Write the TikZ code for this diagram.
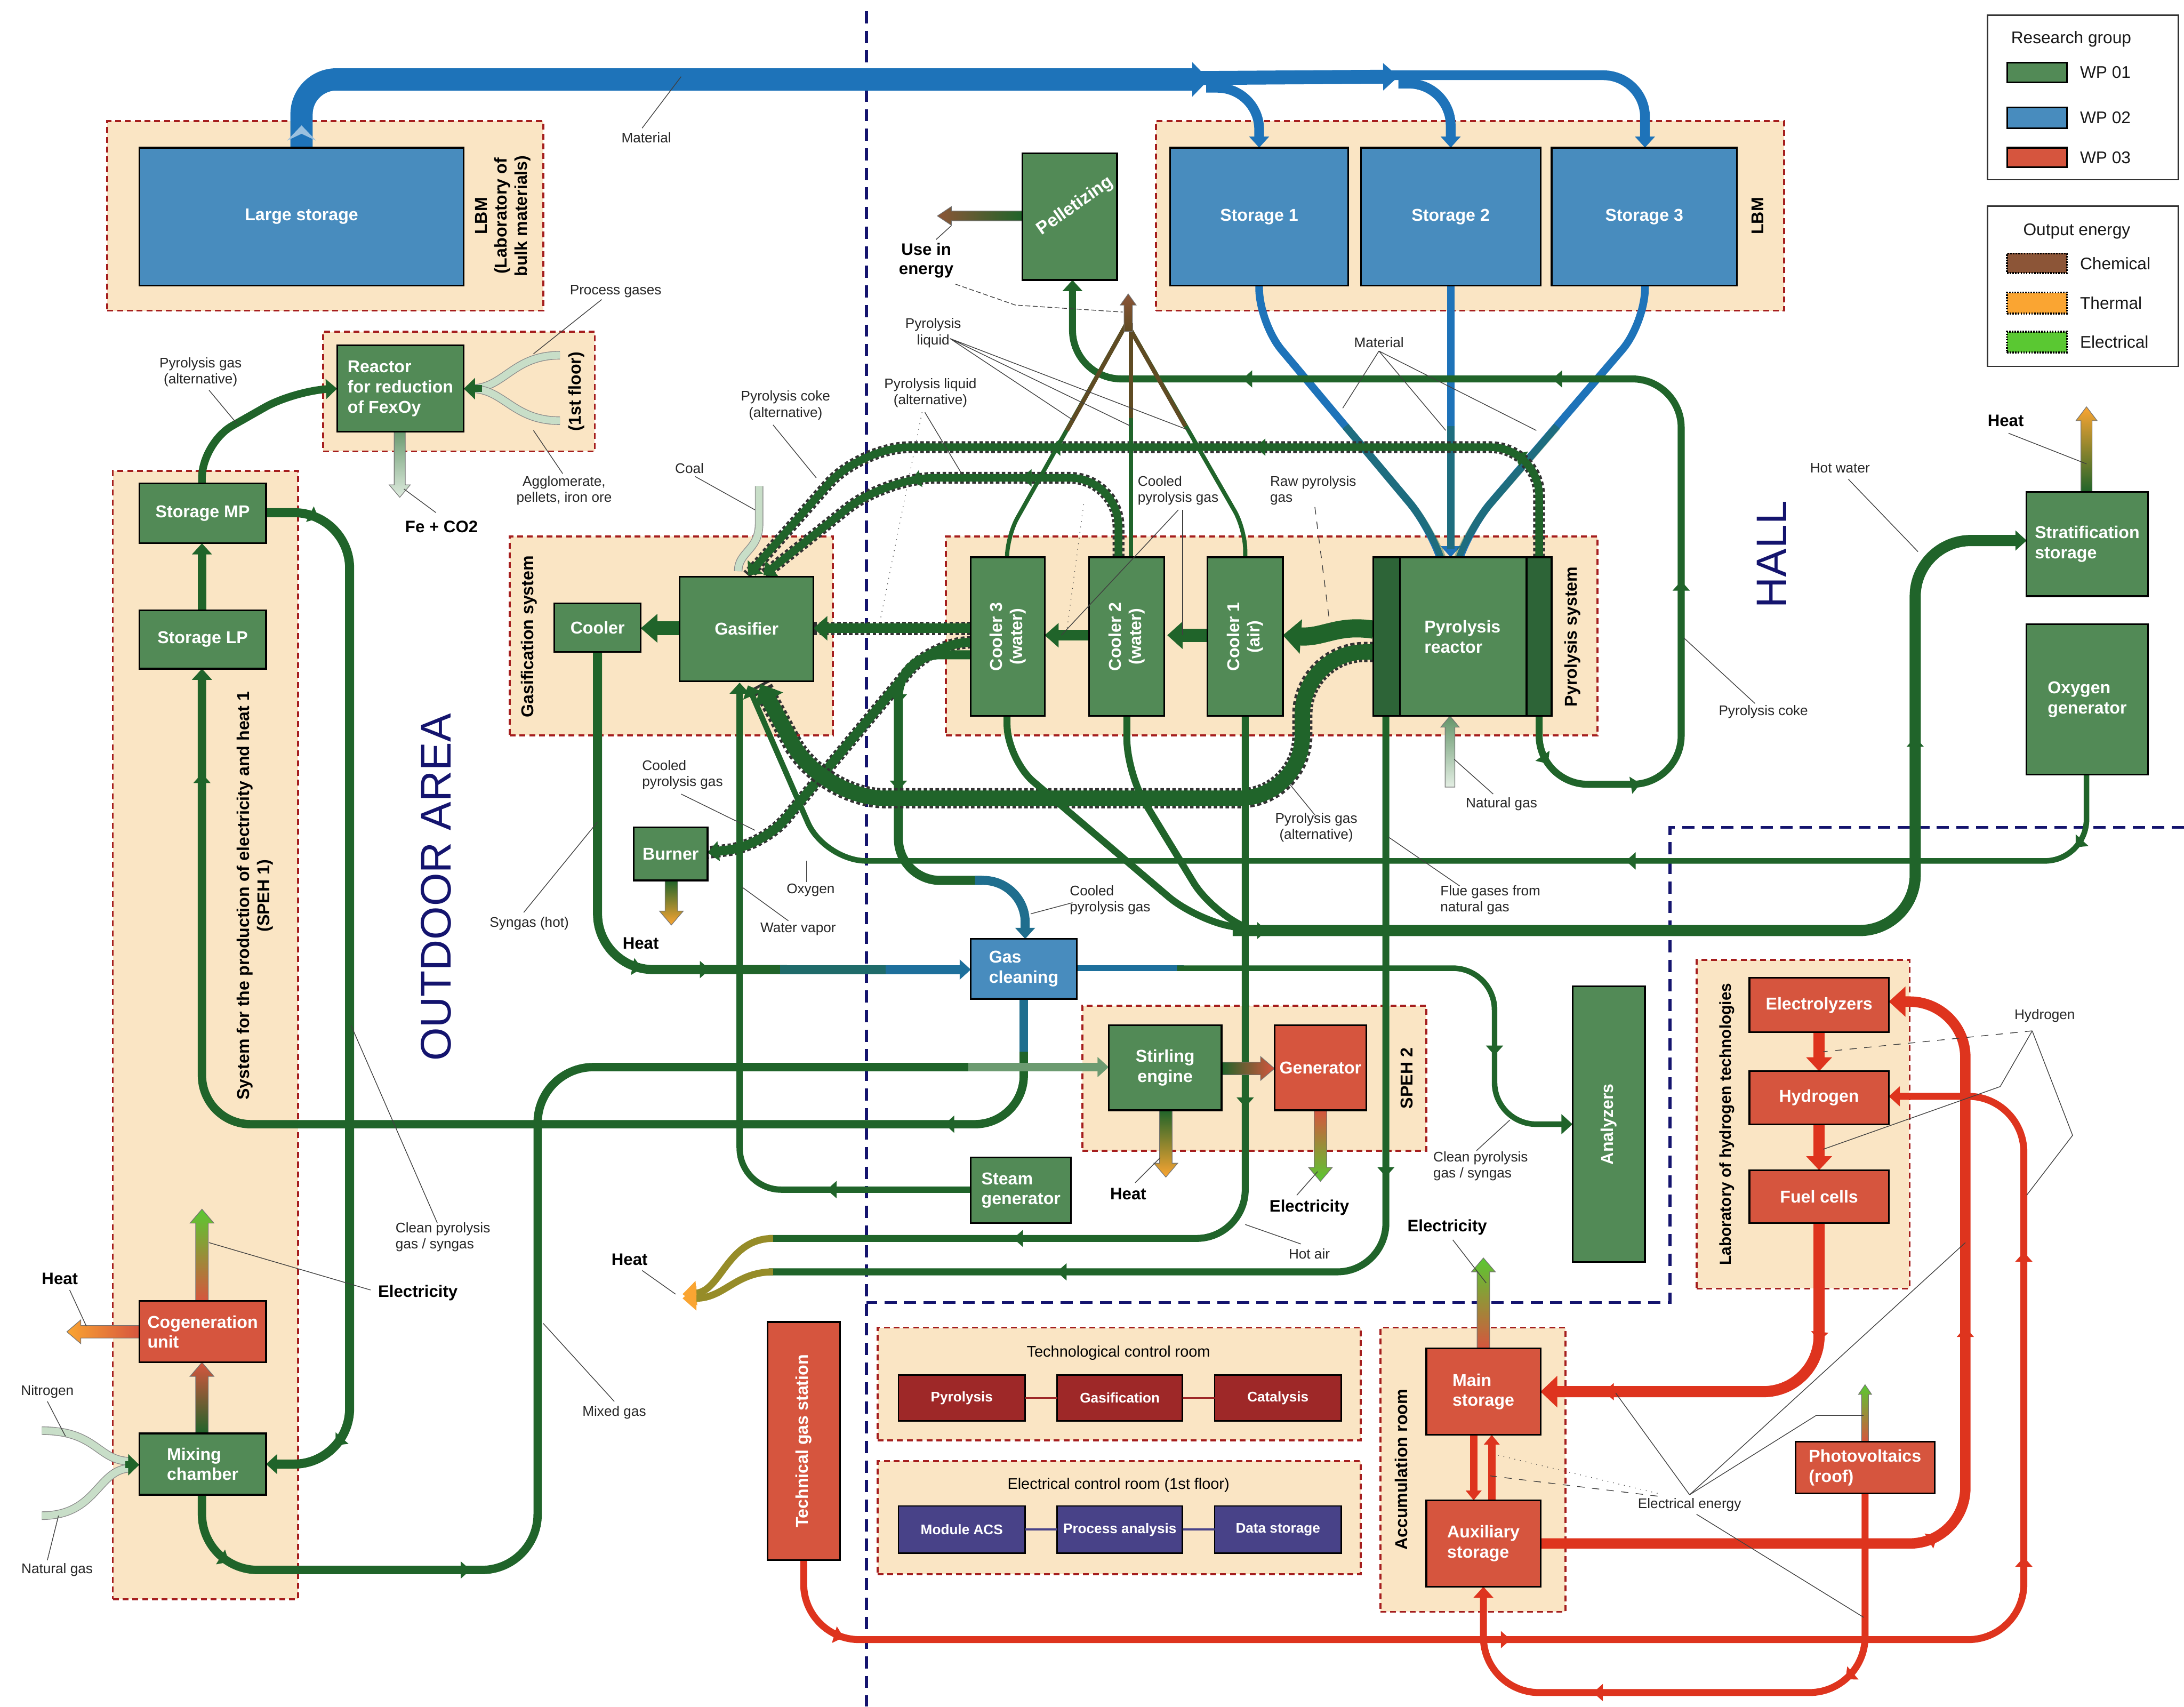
\documentclass[tikz,border=0pt]{standalone}
\usepackage{fontspec}
\setmainfont{Liberation Sans}
\usetikzlibrary{arrows.meta,decorations.markings}
\definecolor{wpg}{RGB}{82,138,86}
\definecolor{wpgd}{RGB}{45,100,55}
\definecolor{wpb}{RGB}{72,140,190}
\definecolor{wpr}{RGB}{214,85,62}
\definecolor{ctrlr}{RGB}{158,40,40}
\definecolor{ctrln}{RGB}{72,66,136}
\definecolor{pg}{RGB}{32,100,42}
\definecolor{pb}{RGB}{30,115,185}
\definecolor{pr}{RGB}{222,52,30}
\definecolor{grpbg}{RGB}{250,229,196}
\definecolor{grpred}{RGB}{165,30,30}
\definecolor{navy}{RGB}{20,20,110}
\definecolor{pale}{RGB}{200,222,200}
\definecolor{brownE}{RGB}{140,85,55}
\definecolor{orangeE}{RGB}{250,165,50}
\definecolor{greenE}{RGB}{90,200,50}
\definecolor{heatc}{RGB}{150,140,40}
\definecolor{fanc}{RGB}{95,75,35}

\newcommand\bx[7]{\node[#1,minimum width={(#5-#3)*0.2mm},minimum height={(#6-#4)*0.2mm}] (#2) at ({(#3+#5)/2},{(#4+#6)/2}) {#7};}
\newcommand\vfat[7]{\path[draw=black!55,line width=0.25pt,top color=#6,bottom color=#7] ({#1-#4},#2) -- ({#1-#4},{#3+#5}) -- ({#1-1.9*#4},{#3+#5}) -- (#1,#3) -- ({#1+1.9*#4},{#3+#5}) -- ({#1+#4},{#3+#5}) -- ({#1+#4},#2) -- cycle;}
\newcommand\hfat[7]{\path[draw=black!55,line width=0.25pt,left color=#6,right color=#7] (#1,{#3-#4}) -- ({#2+#5},{#3-#4}) -- ({#2+#5},{#3-1.9*#4}) -- (#2,#3) -- ({#2+#5},{#3+1.9*#4}) -- ({#2+#5},{#3+#4}) -- (#1,{#3+#4}) -- cycle;}

\tikzset{
 box/.style={draw=black,line width=0.7pt,inner sep=0pt,outer sep=0pt,text=white,font=\bfseries\fontsize{7}{8.2}\selectfont,align=center},
 boxg/.style={box,fill=wpg},
 boxb/.style={box,fill=wpb},
 boxr/.style={box,fill=wpr},
 boxc/.style={box,fill=ctrlr,font=\bfseries\fontsize{5.7}{7}\selectfont,line width=0.6pt},
 boxn/.style={box,fill=ctrln,font=\bfseries\fontsize{5.7}{7}\selectfont,line width=0.6pt},
 grp/.style={draw=grpred,line width=0.8pt,dash pattern=on 2.4pt off 1.6pt,fill=grpbg,inner sep=0pt},
 bt/.style={text=white,font=\bfseries\fontsize{7}{8.2}\selectfont,align=center,inner sep=0pt},
 gt/.style={text=black,font=\bfseries\fontsize{7}{8.2}\selectfont,align=center,inner sep=0pt},
 lbl/.style={text=black!85,font=\fontsize{5.7}{6.6}\selectfont,align=center,inner sep=0.3pt},
 blbl/.style={text=black,font=\bfseries\fontsize{6.8}{7.8}\selectfont,align=center,inner sep=0.3pt},
 big/.style={text=navy,font=\fontsize{17.5}{20}\selectfont,inner sep=0pt},
 navyd/.style={draw=navy,line width=1.2pt,dash pattern=on 5pt off 3pt},
 lead/.style={draw=black!75,line width=0.3pt},
 pipe/.style={draw=pg,line width=1.2mm,rounded corners=5mm},
 rpipe/.style={draw=pr,line width=1.2mm,rounded corners=8mm},
 dp/.style={preaction={draw=black!80,line width=#1,dash pattern=on 0.5mm off 0.35mm,arrows=-}},
 ma/.style={postaction={decorate,decoration={markings,mark=at position #1 with {\arrow{Triangle[length=1.4mm,width=2.4mm]}}}}},
 atip/.style={-{Triangle[length=1.6mm,width=2.8mm]}},
 pl/.style={draw=black!45,double=pale,double distance=1mm,line width=0.3pt},
 sw/.style={draw=black,line width=0.7pt,inner sep=0pt},
 swd/.style={draw=black,line width=0.8pt,dash pattern=on 0.6pt off 0.5pt,inner sep=0pt},
 legt/.style={font=\fontsize{6.9}{8}\selectfont,inner sep=0pt,text=black!90}
}

\begin{document}
\begin{tikzpicture}[x=0.2mm,y=-0.2mm]
\useasboundingbox (0,0) rectangle (1568,1225);
\fill[white] (0,0) rectangle (1568,1225);

% ---------------- groups
\bx{grp}{gLBMa}{77}{87}{390}{223}{}
\bx{grp}{gLBMb}{830}{87}{1281}{223}{}
\bx{grp}{gReact}{232}{238}{427}{324}{}
\bx{grp}{gSPEH1}{81}{338}{214}{1148}{}
\bx{grp}{gGasif}{366}{385}{598}{528}{}
\bx{grp}{gPyro}{679}{385}{1147}{528}{}
\bx{grp}{gSPEH2}{777}{722}{1024}{826}{}
\bx{grp}{gHyd}{1218}{689}{1371}{925}{}
\bx{grp}{gTech}{630}{953}{977}{1034}{}
\bx{grp}{gElec}{630}{1049}{977}{1130}{}
\bx{grp}{gAcc}{991}{953}{1124}{1157}{}

% ---------------- area borders
\draw[navyd] (622,8) -- (622,1225);
\draw[navyd] (1568,594) -- (1199,594) -- (1199,935) -- (622,935);

% ---------------- legend
\bx{draw=black!80,line width=0.6pt,fill=white}{legA}{1427}{11}{1564}{129}{}
\node[legt] (legAt) at (1487,28) {Research group};
\bx{sw,fill=wpg}{sw1}{1441}{45}{1484}{59}{}
\bx{sw,fill=wpb}{sw2}{1441}{77}{1484}{92}{}
\bx{sw,fill=wpr}{sw3}{1441}{106}{1484}{120}{}
\node[legt,anchor=west] (lw1) at (1493,52) {WP 01};
\node[legt,anchor=west] (lw2) at (1493,84.5) {WP 02};
\node[legt,anchor=west] (lw3) at (1493,113) {WP 03};
\bx{draw=black!80,line width=0.6pt,fill=white}{legB}{1427}{148}{1564}{263}{}
\node[legt] (legBt) at (1491,166) {Output energy};
\bx{swd,fill=brownE}{sw4}{1441}{182}{1484}{196}{}
\bx{swd,fill=orangeE}{sw5}{1441}{210}{1484}{225}{}
\bx{swd,fill=greenE}{sw6}{1441}{238}{1484}{253}{}
\node[legt,anchor=west] (lw4) at (1493,189) {Chemical};
\node[legt,anchor=west] (lw5) at (1493,217.5) {Thermal};
\node[legt,anchor=west] (lw6) at (1493,245.5) {Electrical};

% ---------------- blue material pipes
\draw[pb,line width=3.2mm,rounded corners=5mm,-{Triangle[length=2.4mm,width=4.8mm]}] (216.5,106) -- (216.5,57) -- (868,57);
\fill[pb!45!white] (206,101) -- (216.5,90) -- (227,101) -- (216.5,96) -- cycle;
\draw[pb,line width=2mm,-{Triangle[length=2.2mm,width=3.8mm]}] (862,56) -- (1004,55);
\draw[pb,line width=1.4mm,rounded corners=6mm,atip] (998,54) -- (1181,54) -- (1181,106);
\draw[pb,line width=1.4mm,rounded corners=6mm,atip] (866,63) -- (904,63) -- (904,106);
\draw[pb,line width=1.4mm,rounded corners=6mm,atip] (1004,60) -- (1041.5,60) -- (1041.5,106);
\draw[pb,line width=1.1mm,rounded corners=5mm,atip] (904,205) -- (904,232) -- (1028,380) -- (1034,400);
\draw[pb,line width=1.1mm,atip] (1041.5,205) -- (1041.5,400);
\draw[pb,line width=1.1mm,rounded corners=5mm,atip] (1181,205) -- (1181,232) -- (1054,380) -- (1048,400);
\draw[pg,opacity=0.4,line width=1.1mm,rounded corners=5mm] (966,306) -- (1028,380) -- (1033,394);
\draw[pg,opacity=0.4,line width=1.1mm] (1041.5,306) -- (1041.5,394);
\draw[pg,opacity=0.4,line width=1.1mm,rounded corners=5mm] (1118,306) -- (1054,380) -- (1049,394);

% ---------------- green pipes
% pyrolysis coke to pelletizing
\draw[pipe,line width=1mm,rounded corners=7mm,atip,ma=0.04,ma=0.12,ma=0.3,ma=0.55,ma=0.8] (1105,514) -- (1105,563) -- (1207,563) -- (1207,272) -- (770,272) -- (770,201);
% upper dotted pipe (pyrolysis coke alternative)
\draw[pipe,dp=1.7mm,line width=1.1mm,rounded corners=7mm,atip,ma=0.12,ma=0.4,ma=0.62] (1105,400) -- (1105,321) -- (618,321) -- (537,413);
% lower dotted pipe (pyrolysis liquid alternative)
\draw[pipe,dp=1.7mm,line width=1.1mm,rounded corners=7mm,atip,ma=0.35,ma=0.6] (803,400) -- (803,343) -- (636,343) -- (548,413);
% raw pyrolysis gas and coolers chain
\draw[pg,line width=2.6mm,-{Triangle[length=2.6mm,width=4.8mm]}] (986,452) .. controls (960,448) and (950,458) .. (921,456);
\draw[pg,line width=1.9mm,-{Triangle[length=2.2mm,width=3.8mm]}] (867,456) -- (838,456);
\draw[pg,line width=1.5mm,-{Triangle[length=2mm,width=3.4mm]}] (782,456) -- (750,456);
\draw[pipe,dp=1.9mm,line width=1.4mm,-{Triangle[length=2mm,width=3.4mm]}] (697,451) -- (584,451);
% cooler 3 -> burner
\draw[pipe,dp=1.8mm,line width=1.3mm,rounded corners=5mm,atip] (697,461) -- (668,463) -- (548,607) -- (508,612);
% cooler 3 -> gas cleaning
\draw[pipe,line width=1.3mm,rounded corners=6mm,ma=0.3,ma=0.55] (697,470) -- (645,470) -- (645,632) -- (705,632);
\draw[line width=1.3mm,draw=pb!70!pg,rounded corners=6mm,atip] (700,632) -- (736,632) -- (736,674);
% pyrolysis gas (alternative) thick dotted
\draw[pipe,dp=2.9mm,line width=2.2mm,rounded corners=9mm,-{Triangle[length=2.6mm,width=4.4mm]},ma=0.2,ma=0.5] (986,468) -- (935,468) -- (935,573) -- (590,573) -- (546,491);
% hot water
\draw[pipe,line width=1mm,rounded corners=5mm] (723,514) -- (723,545) -- (858,660) -- (900,668);
\draw[pipe,line width=1mm,rounded corners=5mm] (809,514) -- (809,555) -- (870,655) -- (900,668);
\draw[pipe,line width=1.6mm,rounded corners=8mm,atip,ma=0.03,ma=0.75] (885,668) -- (1375,668) -- (1375,388) -- (1455,388);
% hot air and flue gases -> heat
\draw[pipe,line width=1mm,rounded corners=7mm,ma=0.4,ma=0.75] (894,514) -- (894,889) -- (552,889);
\draw[pipe,line width=1mm,rounded corners=7mm,ma=0.4,ma=0.75] (995,514) -- (995,913) -- (552,913);
\draw[line width=1mm,draw=heatc,-{Triangle[length=2mm,width=3.4mm,color=orangeE]}] (555,889) .. controls (522,889) and (518,927) .. (490,929);
\draw[line width=1mm,draw=heatc,-{Triangle[length=2mm,width=3.4mm,color=orangeE]}] (555,913) .. controls (528,913) and (520,932) .. (490,932);
% oxygen
\draw[pipe,line width=0.8mm,rounded corners=6mm,atip,ma=0.05,ma=0.35] (1498,556) -- (1498,618) -- (592,618) -- (537,492);
% water vapor
\draw[pipe,line width=0.9mm,rounded corners=6mm,atip,ma=0.2] (697,854) -- (531,854) -- (531,490);
% gasifier -> cooler
\draw[pg,line width=2mm,-{Triangle[length=2.4mm,width=4mm]}] (488,451) -- (460,451);
% cooler -> gas cleaning (syngas hot)
\draw[pipe,line width=1.3mm,rounded corners=8mm,ma=0.7,ma=0.84] (429,468) -- (429,696) -- (565,696);
\draw[line width=1.3mm,draw=pb!45!pg] (560,696) -- (640,696);
\draw[line width=1.3mm,draw=pb!80!pg,atip] (636,696) -- (697,696);
% gas cleaning -> analyzers
\draw[line width=0.8mm,draw=pb!80!pg] (773,695) -- (850,695);
\draw[pipe,line width=0.8mm,rounded corners=6mm,atip,ma=0.75] (845,695) -- (1073,695) -- (1073,807) -- (1129,807);
% gas cleaning -> storage LP
\draw[line width=1.2mm,draw=pb!70!pg] (735,717) -- (735,760);
\draw[pipe,line width=1.2mm,rounded corners=7mm,atip,ma=0.1,ma=0.92] (735,755) -- (735,807) -- (145,807) -- (145,480);
% mixed gas
\draw[pipe,line width=1.2mm,rounded corners=8mm,ma=0.06,ma=0.25] (145,1073) -- (145,1127) -- (386,1127) -- (386,766) -- (700,766);
\draw[line width=1.2mm,draw=pg!55!pale,atip] (695,766) -- (796,766);
% storage MP -> mixing chamber
\draw[pipe,line width=1.3mm,rounded corners=8mm,atip,ma=0.05,ma=0.93] (191,368) -- (251,368) -- (251,1051) -- (191,1051);
% storage MP -> reactor FexOy
\draw[pipe,line width=1.1mm,rounded corners=5mm,atip] (145,347) -- (145,318) -- (212,280) -- (242,279);
% storage LP -> storage MP
\draw[pg,line width=1.2mm,atip] (145,438) -- (145,390);
% pyrolysis liquid fan
\draw[line width=0.6mm,draw=pg,rounded corners=3mm] (723,400) -- (723,385) -- (809,232);
\draw[line width=0.6mm,draw=pg] (812,400) -- (812,232);
\draw[line width=0.6mm,draw=pg,rounded corners=3mm] (894,400) -- (894,380) -- (809,232);
\draw[line width=0.6mm,draw=fanc] (766,309) -- (809,232);
\draw[line width=0.6mm,draw=fanc] (812,300) -- (812,232);
\draw[line width=0.6mm,draw=fanc] (851,306) -- (809,232);
\vfat{810}{238}{211}{3}{8}{brownE}{fanc}

% pale inputs
\draw[pl] (402,255) .. controls (368,255) and (362,279) .. (338,279);
\draw[pl] (402,302) .. controls (368,302) and (362,279) .. (338,279);
\draw[pg,line width=1mm,-{Triangle[length=1.6mm,width=3mm]}] (346,279) -- (333,279);
\draw[pl] (545,349) -- (545,376) .. controls (545,395) and (530,396) .. (530,410);
\draw[pl] (30,1027) .. controls (70,1027) and (70,1049) .. (94,1049);
\draw[pl] (30,1088) .. controls (70,1088) and (70,1054) .. (94,1054);
\draw[pg,line width=1mm,-{Triangle[length=1.6mm,width=3mm]}] (90,1051.5) -- (100,1051.5);
\vfat{287}{310}{357}{4}{-9}{pg!55!pale}{pale!60!white}
\vfat{1041}{565}{514}{3.5}{8}{pg!60!pale}{pale!50!white}

% fat energy outputs
\hfat{734}{673}{155}{3.5}{10}{brownE}{pg}
\hfat{100}{48}{956}{4.5}{10}{orangeE}{wpr}
\vfat{145}{934}{868}{4.5}{10}{greenE}{wpr}
\vfat{145}{1029}{978}{4.5}{10}{wpr}{pg}
\vfat{482}{632}{664}{4.5}{-10}{pg}{orangeE}
\hfat{877}{915}{767}{4.5}{-10}{pg}{wpr}
\vfat{837}{797}{845}{4.5}{-10}{pg}{orangeE}
\vfat{948}{797}{848}{4.5}{-10}{wpr}{greenE}
\vfat{1065}{968}{903}{4.5}{10}{greenE}{wpr}
\vfat{1498}{353}{292}{4}{10}{orangeE}{pg}
\vfat{1339}{1035}{994}{2.5}{7}{greenE}{wpr}

% ---------------- red pipes
\draw[pr,line width=1.6mm,-{Triangle[length=2mm,width=3.6mm]}] (1306,741) -- (1306,769);
\draw[pr,line width=1.6mm,-{Triangle[length=2mm,width=3.6mm]}] (1306,807) -- (1306,840);
\draw[rpipe,line width=1.6mm,-{Triangle[length=2.4mm,width=4.4mm]},ma=0.28,ma=0.85] (1306,878) -- (1306,999) -- (1106,999);
\draw[rpipe,line width=1.5mm,-{Triangle[length=2.4mm,width=4.2mm]},ma=0.4,ma=0.62] (1106,1108) -- (1411,1108) -- (1411,719) -- (1356,719);
\draw[rpipe,line width=1mm,atip,ma=0.05,ma=0.4,ma=0.7,ma=0.86] (577,1120) -- (577,1177) -- (1453,1177) -- (1453,787) -- (1356,787);
\draw[rpipe,line width=1mm,atip,ma=0.3,ma=0.7] (1339,1072) -- (1339,1215) -- (1065,1215) -- (1065,1139);
\draw[pr,line width=1.1mm,-{Triangle[length=1.4mm,width=2.2mm]}] (1058,1030) -- (1058,1077);
\draw[pr,line width=1.1mm,-{Triangle[length=1.4mm,width=2.2mm]}] (1071,1077) -- (1071,1030);

% ---------------- boxes
\bx{boxb}{largeS}{100}{106}{333}{205}{Large storage}
\bx{boxb}{st1}{840}{106}{968}{205}{Storage 1}
\bx{boxb}{st2}{977}{106}{1106}{205}{Storage 2}
\bx{boxb}{st3}{1114}{106}{1247}{205}{Storage 3}
\bx{boxg}{pell}{734}{110}{802}{201}{}
\node[bt,rotate=35,font=\bfseries\fontsize{7.3}{8.2}\selectfont] (pellT) at (772,148) {Pelletizing};
\bx{boxg,align=left}{reactFe}{242}{248}{333}{310}{Reactor\\for reduction\\of FexOy}
\bx{boxg}{stMP}{100}{347}{191}{390}{Storage MP}
\bx{boxg}{stLP}{100}{438}{191}{480}{Storage LP}
\bx{boxr,align=left}{cogen}{100}{934}{191}{978}{Cogeneration\\unit}
\bx{boxg,align=left}{mix}{100}{1029}{191}{1073}{Mixing\\chamber}
\bx{boxg}{cooler}{398}{433}{460}{468}{Cooler}
\bx{boxg}{gasifier}{488}{414}{584}{489}{Gasifier}
\bx{boxg}{burner}{455}{594}{508}{632}{Burner}
\bx{boxb,align=left}{gascl}{697}{674}{773}{717}{Gas\\cleaning}
\bx{boxg}{c3}{697}{400}{750}{514}{}
\bx{boxg}{c2}{782}{400}{836}{514}{}
\bx{boxg}{c1}{867}{400}{921}{514}{}
\node[bt,rotate=90] (c3T) at (c3) {Cooler 3\\(water)};
\node[bt,rotate=90] (c2T) at (c2) {Cooler 2\\(water)};
\node[bt,rotate=90] (c1T) at (c1) {Cooler 1\\(air)};
\bx{boxg,align=left}{reactor}{986}{400}{1114}{514}{Pyrolysis\\reactor}
\draw[fill=wpgd,line width=0.7pt] (986,400) rectangle (1005,514);
\draw[fill=wpgd,line width=0.7pt] (1096,400) rectangle (1114,514);
\bx{boxg}{stirl}{796}{736}{877}{797}{Stirling\\engine}
\bx{boxr}{gen}{915}{736}{981}{797}{Generator}
\bx{boxg,align=left}{steam}{697}{831}{769}{878}{Steam\\generator}
\bx{boxg}{analyz}{1129}{708}{1181}{906}{}
\node[bt,rotate=90] (analyzT) at (analyz) {Analyzers};
\bx{boxg,align=left}{strat}{1455}{353}{1542}{428}{Stratification\\storage}
\bx{boxg,align=left}{oxyg}{1455}{448}{1542}{556}{Oxygen\\generator}
\bx{boxr}{techgas}{551}{949}{603}{1120}{}
\node[bt,rotate=90] (techT) at (techgas) {Technical gas station};
\bx{boxc}{cPyro}{645}{987}{736}{1020}{Pyrolysis}
\bx{boxc}{cGasif}{759}{987}{849}{1020}{Gasification}
\bx{boxc}{cCatal}{872}{987}{963}{1020}{Catalysis}
\bx{boxn}{cMacs}{645}{1081}{736}{1115}{Module ACS}
\bx{boxn}{cProc}{759}{1081}{849}{1115}{Process analysis}
\bx{boxn}{cData}{872}{1081}{963}{1115}{Data storage}
\draw[ctrlr,line width=0.8pt] (cPyro.east) -- (cGasif.west) (cGasif.east) -- (cCatal.west);
\draw[ctrln,line width=0.8pt] (cMacs.east) -- (cProc.west) (cProc.east) -- (cData.west);
\bx{boxr,align=left}{mainst}{1024}{968}{1106}{1030}{Main\\storage}
\bx{boxr,align=left}{auxst}{1024}{1077}{1106}{1139}{Auxiliary\\storage}
\bx{boxr}{electro}{1256}{702}{1356}{741}{Electrolyzers}
\bx{boxr}{hydro}{1256}{769}{1356}{807}{Hydrogen}
\bx{boxr}{fuel}{1256}{840}{1356}{878}{Fuel cells}
\bx{boxr,align=left}{pv}{1289}{1035}{1389}{1072}{Photovoltaics\\(roof)}

% ---------------- group titles
\node[gt,rotate=90] (tLBM1) at (361,155) {LBM\\(Laboratory of\\bulk materials)};
\node[gt,rotate=90] (tLBM2) at (1262,155) {LBM};
\node[gt,rotate=90] (t1st) at (414,281) {(1st floor)};
\node[gt,rotate=90] (tSPEH1) at (183,643) {System for the production of electricity and heat 1\\(SPEH 1)};
\node[gt,rotate=90] (tGas) at (380,457) {Gasification system};
\node[gt,rotate=90] (tPyr) at (1129,457) {Pyrolysis system};
\node[gt,rotate=90] (tSPEH2) at (1010,774) {SPEH 2};
\node[gt,rotate=90,font=\bfseries\fontsize{6.5}{7.5}\selectfont] (tLab) at (1240,807) {Laboratory of hydrogen technologies};
\node[gt,font=\fontsize{6.3}{7.5}\selectfont] (tTech) at (803,971) {Technological control room};
\node[gt,font=\fontsize{6.3}{7.5}\selectfont] (tElec) at (803,1066) {Electrical control room (1st floor)};
\node[gt,rotate=90] (tAcc) at (1006,1055) {Accumulation room};
\node[big,rotate=90] (tHall) at (1272,398) {HALL};
\node[big,rotate=90] (tOut) at (313,637) {OUTDOOR AREA};

% ---------------- labels
\node[lbl] (tMat1) at (464,99) {Material};
\node[lbl] (tProc) at (442,209) {Process gases};
\node[lbl] (tPgA) at (144,267) {Pyrolysis gas\\(alternative)};
\node[lbl] (tAgg) at (405,352) {Agglomerate,\\pellets, iron ore};
\node[blbl] (tFe) at (317,378) {Fe + CO2};
\node[lbl] (tCoal) at (495,336) {Coal};
\node[lbl] (tPcA) at (564,291) {Pyrolysis coke\\(alternative)};
\node[blbl] (tUse) at (665,187) {Use in\\energy};
\node[lbl] (tPl) at (670,239) {Pyrolysis\\liquid};
\node[lbl] (tPlA) at (668,282) {Pyrolysis liquid\\(alternative)};
\node[lbl] (tMat2) at (990,246) {Material};
\node[lbl,align=left,anchor=west] (tCpg1) at (816,352) {Cooled\\pyrolysis gas};
\node[lbl,align=left,anchor=west] (tRaw) at (911,352) {Raw pyrolysis\\gas};
\node[lbl] (tHw) at (1321,336) {Hot water};
\node[blbl] (tHeat5) at (1440,302) {Heat};
\node[lbl] (tPc) at (1266,511) {Pyrolysis coke};
\node[lbl] (tNg2) at (1078,577) {Natural gas};
\node[lbl] (tPgA2) at (945,594) {Pyrolysis gas\\(alternative)};
\node[lbl,align=left] (tFlue) at (1070,646) {Flue gases from\\natural gas};
\node[lbl,align=left] (tCpg2) at (490,556) {Cooled\\pyrolysis gas};
\node[lbl] (tOxy) at (582,639) {Oxygen};
\node[lbl] (tWv) at (573,667) {Water vapor};
\node[lbl] (tSyn) at (380,663) {Syngas (hot)};
\node[blbl] (tHeat2) at (460,677) {Heat};
\node[lbl,align=left] (tCpg3) at (797,646) {Cooled\\pyrolysis gas};
\node[lbl,align=left] (tClean1) at (318,888) {Clean pyrolysis\\gas / syngas};
\node[blbl] (tEl1) at (300,928) {Electricity};
\node[blbl] (tHeat1) at (43,918) {Heat};
\node[lbl] (tN2) at (34,999) {Nitrogen};
\node[lbl] (tNg1) at (41,1127) {Natural gas};
\node[lbl] (tMix) at (441,1014) {Mixed gas};
\node[blbl] (tHeat3) at (452,904) {Heat};
\node[blbl] (tHeat4) at (810,857) {Heat};
\node[blbl] (tEl2) at (940,867) {Electricity};
\node[lbl] (tHa) at (940,900) {Hot air};
\node[lbl,align=left] (tClean2) at (1063,837) {Clean pyrolysis\\gas / syngas};
\node[blbl] (tEl3) at (1039,881) {Electricity};
\node[lbl] (tH2) at (1468,729) {Hydrogen};
\node[lbl] (tEe) at (1213,1080) {Electrical energy};

% ---------------- leader lines
\draw[lead] (461,92) -- (489,55);
\draw[lead] (432,215) -- (383,254);
\draw[lead] (404,340) -- (383,309);
\draw[lead] (313,368) -- (290,351);
\draw[lead] (150,280) -- (170,304);
\draw[lead] (499,342) -- (542,366);
\draw[lead] (555,305) -- (586,343);
\draw[lead] (672,172) -- (683,162);
\draw[lead,dash pattern=on 2pt off 1pt] (686,204) -- (729,219) -- (806,224);
\draw[lead] (682,243) -- (854,309) (682,243) -- (812,306) (682,243) -- (771,302);
\draw[lead] (664,296) -- (691,341);
\draw[lead,dotted] (662,296) -- (632,445);
\draw[lead,dotted] (778,362) -- (766,452);
\draw[lead] (990,252) -- (964,293) (990,252) -- (1038,309) (990,252) -- (1103,309);
\draw[lead] (846,366) -- (762,456);
\draw[lead] (849,366) -- (849,456);
\draw[lead,dashed] (944,364) -- (955,450);
\draw[lead] (1327,344) -- (1377,396);
\draw[lead] (1442,311) -- (1498,333);
\draw[lead] (1209,458) -- (1260,505);
\draw[lead] (1072,570) -- (1044,545);
\draw[lead] (944,585) -- (926,563);
\draw[lead] (1048,636) -- (997,601);
\draw[lead] (489,570) -- (542,596);
\draw[lead] (579,633) -- (579,618);
\draw[lead] (566,661) -- (533,637);
\draw[lead] (376,655) -- (429,590);
\draw[lead] (770,648) -- (740,656);
\draw[lead] (314,878) -- (252,736);
\draw[lead] (150,892) -- (266,926);
\draw[lead] (50,926) -- (62,952);
\draw[lead] (34,1006) -- (47,1031);
\draw[lead] (34,1120) -- (42,1088);
\draw[lead] (441,1006) -- (390,950);
\draw[lead] (461,912) -- (485,929);
\draw[lead] (815,849) -- (833,831);
\draw[lead] (931,858) -- (946,841);
\draw[lead] (934,893) -- (894,879);
\draw[lead] (1060,826) -- (1084,804);
\draw[lead] (1043,890) -- (1067,921);
\draw[lead,dashed] (1459,740) -- (1309,755);
\draw[lead] (1459,740) -- (1436,780) -- (1309,825);
\draw[lead] (1459,740) -- (1488,815) -- (1455,858);
\draw[lead] (1213,1073) -- (1160,1000);
\draw[lead] (1213,1073) -- (1304,1016) -- (1338,1016);
\draw[lead] (1213,1073) -- (1411,892);
\draw[lead] (1218,1087) -- (1338,1161);
\draw[lead,dashed] (1190,1074) -- (1066,1059);
\draw[lead,dotted] (1190,1072) -- (1073,1044);
\end{tikzpicture}
\end{document}
